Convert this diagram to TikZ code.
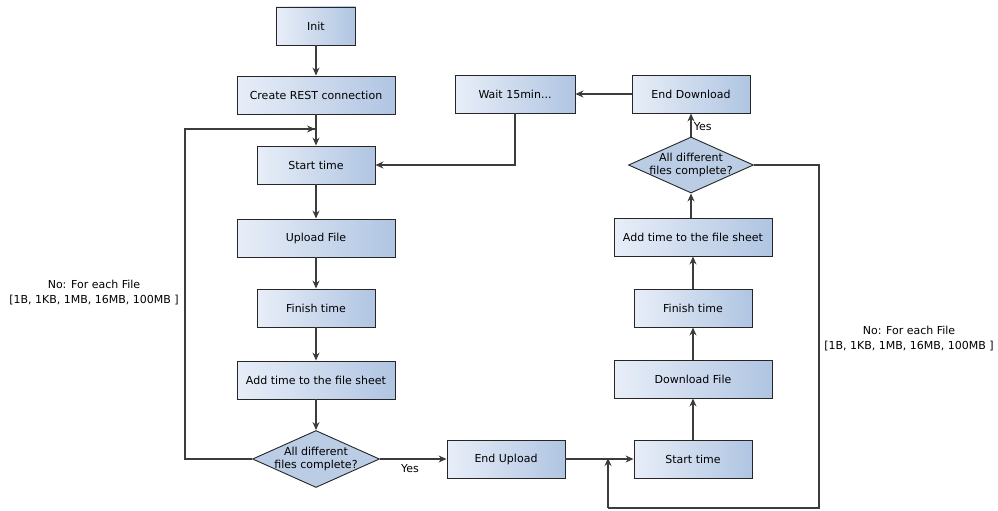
\documentclass[tikz,border=0pt]{standalone}
\usepackage{fontspec}
\setmainfont{DejaVu Sans}
\usetikzlibrary{arrows.meta,shapes.geometric}
\definecolor{boxL}{RGB}{232,238,248}
\definecolor{boxR}{RGB}{176,197,226}
\definecolor{dia}{RGB}{187,204,229}
\definecolor{ln}{RGB}{60,60,60}
\tikzset{
  box/.style={draw=black!85,line width=0.9pt,left color=boxL,right color=boxR,minimum height=38pt,inner sep=0pt,font=\fontsize{11}{13}\selectfont},
  narrow/.style={box,minimum width=118pt},
  wide/.style={box,minimum width=158pt},
  dec/.style={draw=black!85,line width=0.9pt,fill=dia,diamond,inner sep=0pt,minimum width=127pt,minimum height=57pt,
    label={[font=\fontsize{11}{13}\selectfont,align=center,inner sep=0pt]center:All different\\files complete?}},
  conn/.style={draw=ln,line width=1.2pt},
  arr/.style={conn,-{Stealth[length=8pt,width=7pt]}},
  lbl/.style={font=\fontsize{11}{14}\selectfont,align=center},
  note/.style={font=\fontsize{11}{15}\selectfont,align=center,inner sep=0pt}
}
\begin{document}
\begin{tikzpicture}[x=1pt,y=-1pt]
\useasboundingbox (0,0) rectangle (998,511);
% left column
\node[box,minimum width=79pt] (init) at (316,26) {Init};
\node[wide] (rest) at (316,95) {Create REST connection};
\node[narrow] (st1) at (316,165) {Start time};
\node[wide] (up) at (316,238) {Upload File};
\node[narrow] (ft1) at (316,308) {Finish time};
\node[wide] (add1) at (316,380) {Add time to the file sheet};
\node[dec] (d1) at (316,459) {};
\node[narrow] (eu) at (506,459) {End Upload};
% right column
\node[narrow] (st2) at (693,459) {Start time};
\node[wide] (dl) at (693,379) {Download File};
\node[narrow] (ft2) at (693,308) {Finish time};
\node[wide] (add2) at (693,237) {Add time to the file sheet};
\node[dec,minimum width=125pt,minimum height=56pt] (d2) at (691,165) {};
\node[narrow] (ed) at (691,94) {End Download};
\node[box,minimum width=120pt] (wait) at (515,94) {Wait 15min...};
% coordinates
\coordinate (lp1) at (185,459);
\coordinate (lp2) at (185,129);
\coordinate (lp3) at (316,129);
\coordinate (j) at (608,459);
\coordinate (rp1) at (819,165);
\coordinate (rp2) at (819,508);
\coordinate (rp3) at (608,508);
% connectors
\draw[arr] (init) -- (rest);
\draw[arr] (rest) -- (st1);
\draw[arr] (st1) -- (up);
\draw[arr] (up) -- (ft1);
\draw[arr] (ft1) -- (add1);
\draw[arr] (add1) -- (d1);
\draw[conn] (d1.west) -- (lp1) -- (lp2) -- (lp3);
\draw[arr] (lp2) -- ([xshift=-1pt]lp3);
\draw[arr] (wait.south) |- (st1.east);
\draw[arr] (d1.east) -- (eu.west) node[pos=0.45,below=2pt,lbl] {Yes};
\draw[arr] (eu.east) -- (st2.west);
\draw[arr] (st2) -- (dl);
\draw[arr] (dl) -- (ft2);
\draw[arr] (ft2) -- (add2);
\draw[arr] (add2.north -| d2.south) -- (d2.south);
\draw[arr] (d2) -- (ed) node[pos=0.45,right=-1pt,lbl] {Yes};
\draw[arr] (ed) -- (wait);
\draw[conn] (d2.east) -- (rp1) -- (rp2) -- (rp3);
\draw[arr] (rp3) -- ([yshift=1pt]j);
% labels
\node[note] (n1) at (94,293) {No: For each File\\{}[1B, 1KB, 1MB, 16MB, 100MB ]};
\node[note] (n2) at (909,339) {No: For each File\\{}[1B, 1KB, 1MB, 16MB, 100MB ]};
\end{tikzpicture}
\end{document}
